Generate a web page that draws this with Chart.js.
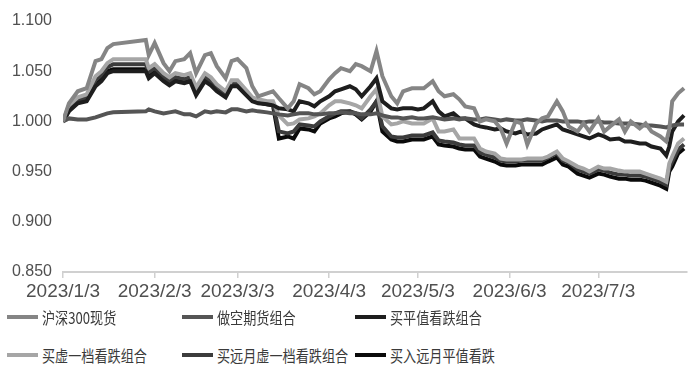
<!DOCTYPE html>
<html>
<head>
<meta charset="utf-8">
<script src="https://cdn.jsdelivr.net/npm/chart.js@4.4.1/dist/chart.umd.min.js"></script>
<style>
body{margin:0;background:#fff;width:695px;height:379px;overflow:hidden;position:relative;}
#c{position:absolute;left:0;top:0;}
.lg{position:absolute;display:flex;align-items:center;font-family:"Noto Sans CJK SC",sans-serif;font-size:16px;color:#3a3a3a;white-space:nowrap;}
.lg i{display:inline-block;width:31px;height:4px;margin-right:4px;flex:none;}
.lg span{display:inline-block;transform:scaleX(0.82);transform-origin:left center;}
</style>
</head>
<body>
<canvas id="c" width="695" height="310"></canvas>
<div id="legend"></div>
<script>
/* ===== data ===== */

// days after 2023/1/3 (calendar days, date axis)
const days=[0,2,5,8,11,13,15,17,28,29,31,34,36,38,41,43,45,48,50,52,55,57,59,62,64,66,69,71,73,76,
78,80,83,85,87,90,92,94,97,99,101,104,106,108,111,113,115,118,120,122,125,127,129,132,134,136,139,141,143,146,
148,150,153,155,157,160,162,164,167,169,171,174,176,178,181,183,185,188,190,192,195,197,199,202,204,205,206,208,210];

const tickDays=[0,31,59,90,120,151,181];
const tickLabels=["2023/1/3","2023/2/3","2023/3/3","2023/4/3","2023/5/3","2023/6/3","2023/7/3"];

const names=["沪深300现货","做空期货组合","买平值看跌组合","买虚一档看跌组合","买远月虚一档看跌组合","买入远月平值看跌"];

const spot=[1.000,1.018,1.030,1.033,1.060,1.062,1.073,1.077,1.081,1.066,
1.078,1.058,1.050,1.060,1.062,1.068,1.048,1.066,1.068,1.055,
1.043,1.060,1.062,1.053,1.035,1.025,1.028,1.030,1.023,1.013,
1.020,1.037,1.033,1.027,1.030,1.042,1.048,1.053,1.050,1.057,
1.055,1.050,1.070,1.045,1.025,1.018,1.030,1.033,1.033,1.033,
1.040,1.030,1.025,1.027,1.022,1.015,1.013,1.000,1.002,1.000,
0.993,0.978,1.000,0.998,0.977,0.998,1.003,1.005,1.020,1.010,
0.995,0.990,0.998,0.990,1.003,0.990,0.995,1.002,0.990,1.000,
0.993,0.998,0.990,0.985,0.980,0.992,1.020,1.028,1.033];

const shortFut=[1.000,1.003,1.002,1.002,1.004,1.006,1.008,1.009,1.010,1.012,
1.010,1.008,1.009,1.010,1.007,1.007,1.005,1.010,1.009,1.010,
1.009,1.012,1.012,1.010,1.011,1.010,1.009,1.008,1.007,1.006,
1.007,1.008,1.008,1.007,1.007,1.008,1.008,1.009,1.008,1.008,
1.007,1.007,1.008,1.006,1.004,1.004,1.003,1.004,1.003,1.003,
1.004,1.003,1.002,1.003,1.002,1.003,1.002,1.002,1.003,1.002,
1.001,1.002,1.001,1.001,1.002,1.001,1.000,1.001,1.001,1.000,
1.000,1.000,0.999,1.000,1.000,0.999,0.999,0.998,0.998,0.998,
0.997,0.996,0.996,0.995,0.994,0.995,0.996,0.997,0.997];

const atmPut=[1.000,1.010,1.018,1.020,1.035,1.040,1.048,1.050,1.050,1.043,
1.048,1.040,1.036,1.040,1.038,1.040,1.026,1.040,1.036,1.030,
1.024,1.035,1.035,1.026,1.020,1.018,1.017,1.016,1.013,1.012,
1.010,1.020,1.018,1.015,1.020,1.025,1.030,1.032,1.035,1.032,
1.025,1.035,1.043,1.020,1.013,1.012,1.013,1.013,1.012,1.013,
1.020,1.010,1.005,1.008,1.003,1.003,0.997,0.995,0.994,0.992,
0.993,0.990,0.988,0.990,0.987,0.988,0.992,0.994,0.997,0.992,
0.990,0.987,0.985,0.983,0.987,0.985,0.982,0.983,0.980,0.980,
0.978,0.978,0.975,0.973,0.966,0.975,0.990,1.000,1.006];

const otmPut=[1.000,1.016,1.024,1.027,1.045,1.050,1.058,1.062,1.062,1.053,
1.057,1.048,1.044,1.048,1.046,1.048,1.034,1.048,1.044,1.037,
1.030,1.041,1.041,1.031,1.024,1.022,1.020,1.020,1.006,0.997,
0.998,1.002,1.003,1.005,1.008,1.016,1.020,1.020,1.018,1.016,
1.013,1.025,1.032,1.005,0.997,0.998,1.000,0.998,0.998,0.998,
1.003,0.990,0.990,0.992,0.983,0.983,0.983,0.973,0.970,0.968,
0.963,0.962,0.962,0.962,0.963,0.963,0.963,0.965,0.970,0.963,
0.960,0.955,0.953,0.950,0.955,0.953,0.953,0.951,0.950,0.950,
0.950,0.948,0.946,0.943,0.940,0.958,0.965,0.978,0.983];

const farOtmPut=[1.000,1.013,1.021,1.024,1.041,1.046,1.054,1.057,1.057,1.049,
1.053,1.044,1.040,1.044,1.042,1.044,1.030,1.044,1.040,1.034,
1.027,1.038,1.038,1.029,1.022,1.020,1.019,1.018,0.990,0.988,
0.990,0.997,0.996,0.995,1.000,1.005,1.008,1.010,1.010,1.008,
1.003,1.012,1.020,0.995,0.985,0.984,0.984,0.986,0.986,0.986,
0.989,0.981,0.980,0.979,0.977,0.976,0.976,0.969,0.967,0.964,
0.961,0.960,0.960,0.961,0.961,0.961,0.961,0.964,0.968,0.961,
0.959,0.952,0.950,0.948,0.952,0.951,0.949,0.947,0.947,0.946,
0.946,0.945,0.943,0.940,0.937,0.954,0.960,0.972,0.977];

const farAtmPut=[1.000,1.011,1.019,1.021,1.037,1.042,1.050,1.052,1.052,1.045,
1.050,1.042,1.038,1.042,1.040,1.042,1.028,1.042,1.038,1.032,
1.026,1.037,1.037,1.027,1.021,1.019,1.017,1.016,0.983,0.985,
0.983,0.993,0.992,0.990,0.998,1.003,1.005,1.008,1.010,1.007,
1.002,1.010,1.020,0.990,0.982,0.980,0.980,0.982,0.982,0.982,
0.985,0.977,0.976,0.975,0.973,0.972,0.972,0.965,0.963,0.960,
0.957,0.956,0.956,0.957,0.957,0.957,0.957,0.960,0.964,0.957,
0.955,0.948,0.946,0.944,0.948,0.947,0.945,0.943,0.943,0.942,
0.942,0.941,0.939,0.936,0.933,0.950,0.955,0.968,0.973];

/* ===== chart ===== */

const series=[spot,shortFut,atmPut,otmPut,farOtmPut,farAtmPut];
const colors=["#858585","#555555","#1e1e1e","#a6a6a6","#3c3c3c","#0a0a0a"];

const datasets=series.map((vals,k)=>({
label:names[k],
data:vals.map((v,i)=>({x:days[i],y:v})),
borderColor:colors[k],
borderWidth:4,
pointRadius:0,
tension:0,
fill:false
}));

new Chart(document.getElementById("c"),{
type:"line",
data:{datasets:datasets},
options:{
responsive:false,
animation:false,
layout:{padding:{left:0,right:8,top:21,bottom:0}},
plugins:{legend:{display:false},tooltip:{enabled:false}},
scales:{
x:{
type:"linear",
min:0,max:211,
afterBuildTicks:s=>{s.ticks=tickDays.map(v=>({value:v}));},
afterFit:s=>{s.height=38;},
ticks:{
autoSkip:false,maxRotation:0,padding:2,
color:"#505050",
font:{family:"Liberation Sans",size:19},
callback:v=>tickLabels[tickDays.indexOf(v)]
},
grid:{drawOnChartArea:false,color:"#d0d0d0",tickLength:6,lineWidth:1.5},
border:{color:"#d0d0d0",width:2}
},
y:{
min:0.85,max:1.1,
afterFit:s=>{s.width=63;},
ticks:{
stepSize:0.05,padding:11,
color:"#505050",
font:{family:"Liberation Sans",size:16},
callback:v=>v.toFixed(3)
},
grid:{display:false,drawTicks:false},
border:{display:false}
}
}
}
});

/* ===== legend ===== */

const legendPos=[[7,317],[182,317],[355,317],[7,355],[182,355],[355,355]];
const legend=document.getElementById("legend");
names.forEach((n,k)=>{
const d=document.createElement("div");
d.className="lg";
d.style.left=legendPos[k][0]+"px";
d.style.top=(legendPos[k][1]-11)+"px";
d.style.height="22px";
d.innerHTML=`<i style="background:${colors[k]}"></i><span>${n}</span>`;
legend.appendChild(d);
});
</script>
</body>
</html>
